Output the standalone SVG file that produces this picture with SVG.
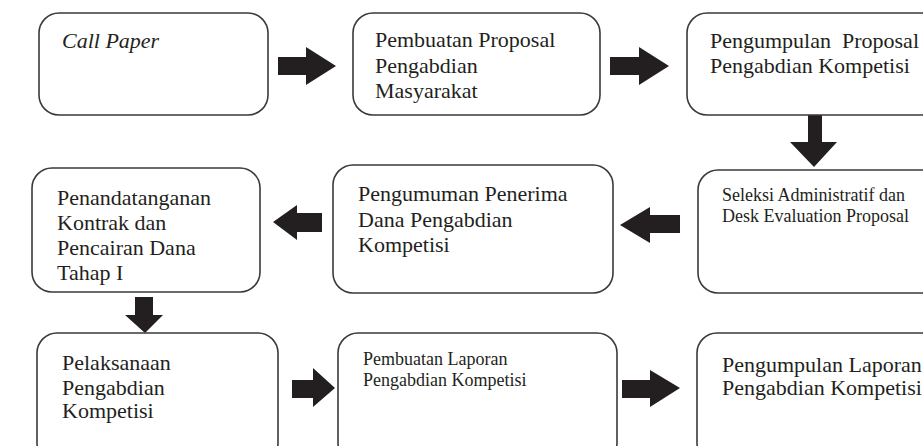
<svg xmlns="http://www.w3.org/2000/svg" width="923" height="446" viewBox="0 0 923 446">
<style>
.box{fill:#fff;stroke:#3a3a3a;stroke-width:1.6}
.t{font-family:"Liberation Serif","Times New Roman",serif;font-size:22px;fill:#231f20;white-space:pre}
.s{font-size:18px}
.arr{fill:#231f20}
</style>
<rect width="923" height="446" fill="#fff"/>
<g id="connectors">
<polygon class="arr" points="278,57 306,57 306,47 336,66 306,85 306,75 278,75"/>
<polygon class="arr" points="610,57 639,57 639,47 669,66 639,85 639,75 610,75"/>
<polygon class="arr" points="808,115 822,115 822,142 837,142 814,167 790,142 808,142"/>
<polygon class="arr" points="680,215 650,215 650,207 620,225 650,243 650,233 680,233"/>
<polygon class="arr" points="322,213 297,213 297,205 273,222 297,240 297,232 322,232"/>
<polygon class="arr" points="135,297 153,297 153,315 163,315 145,333 125,315 135,315"/>
<polygon class="arr" points="292,380 313,380 313,368 335,388 313,407 313,398 292,398"/>
<polygon class="arr" points="622,380 650,380 650,370 680,388 650,407 650,398 622,398"/>
</g>
<g id="n1"><rect class="box" x="39" y="13" width="229" height="102" rx="20"/><text class="t" x="62" y="48" font-style="italic">Call Paper</text></g>
<g id="n2"><rect class="box" x="353" y="13" width="247" height="102" rx="20"/><text class="t" x="375" y="47">Pembuatan Proposal</text><text class="t" x="375" y="73">Pengabdian</text><text class="t" x="375" y="98">Masyarakat</text></g>
<g id="n3"><rect class="box" x="687" y="13" width="260" height="102" rx="20"/><text class="t" x="710" y="48">Pengumpulan  Proposal</text><text class="t" x="710" y="73">Pengabdian Kompetisi</text></g>
<g id="n4"><rect class="box" x="698" y="170" width="250" height="123" rx="20"/><text class="t s" x="722" y="201">Seleksi Administratif dan</text><text class="t s" x="722" y="222">Desk Evaluation Proposal</text></g>
<g id="n5"><rect class="box" x="333" y="165" width="280" height="128" rx="20"/><text class="t" x="358" y="201">Pengumuman Penerima</text><text class="t" x="358" y="227">Dana Pengabdian</text><text class="t" x="358" y="252">Kompetisi</text></g>
<g id="n6"><rect class="box" x="32" y="168" width="228" height="124" rx="20"/><text class="t" x="57" y="205">Penandatanganan</text><text class="t" x="57" y="230">Kontrak dan</text><text class="t" x="57" y="255">Pencairan Dana</text><text class="t" x="57" y="280">Tahap I</text></g>
<g id="n7"><rect class="box" x="37" y="333" width="241" height="130" rx="20"/><text class="t" x="62" y="370">Pelaksanaan</text><text class="t" x="62" y="395">Pengabdian</text><text class="t" x="62" y="418">Kompetisi</text></g>
<g id="n8"><rect class="box" x="338" y="333" width="279" height="130" rx="20"/><text class="t s" x="363" y="365">Pembuatan Laporan</text><text class="t s" x="363" y="386">Pengabdian Kompetisi</text></g>
<g id="n9"><rect class="box" x="697" y="333" width="250" height="130" rx="20"/><text class="t" x="722" y="372">Pengumpulan Laporan</text><text class="t" x="722" y="395">Pengabdian Kompetisi</text></g>
</svg>
